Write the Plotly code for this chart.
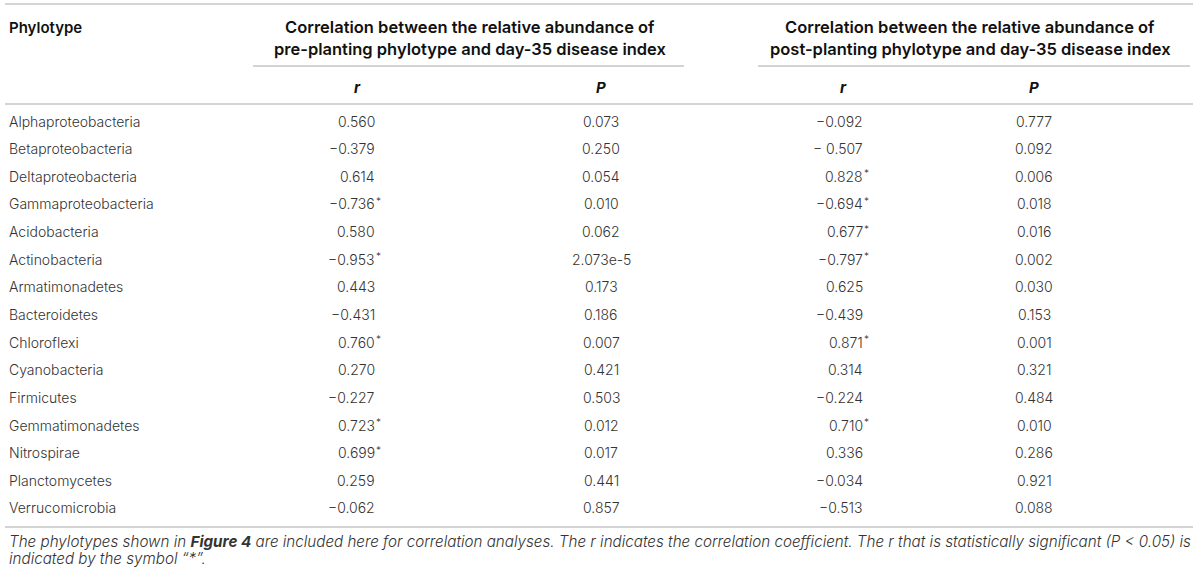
import plotly.graph_objects as go

# table content
phylotypes = [
    "Alphaproteobacteria", "Betaproteobacteria", "Deltaproteobacteria",
    "Gammaproteobacteria", "Acidobacteria", "Actinobacteria",
    "Armatimonadetes", "Bacteroidetes", "Chloroflexi", "Cyanobacteria",
    "Firmicutes", "Gemmatimonadetes", "Nitrospirae", "Planctomycetes",
    "Verrucomicrobia",
]
r_pre = ["0.560", "−0.379", "0.614", "−0.736*", "0.580", "−0.953*", "0.443",
         "−0.431", "0.760*", "0.270", "−0.227", "0.723*", "0.699*", "0.259",
         "−0.062"]
p_pre = ["0.073", "0.250", "0.054", "0.010", "0.062", "2.073e-5", "0.173",
         "0.186", "0.007", "0.421", "0.503", "0.012", "0.017", "0.441",
         "0.857"]
r_post = ["−0.092", "− 0.507", "0.828*", "−0.694*", "0.677*", "−0.797*",
          "0.625", "−0.439", "0.871*", "0.314", "−0.224", "0.710*", "0.336",
          "−0.034", "−0.513"]
p_post = ["0.777", "0.092", "0.006", "0.018", "0.016", "0.002", "0.030",
          "0.153", "0.001", "0.321", "0.484", "0.010", "0.286", "0.921",
          "0.088"]

first_header = "Phylotype"
group_titles = [
    ["Correlation between the relative abundance of",
     "pre-planting phylotype and day-35 disease index"],
    ["Correlation between the relative abundance of",
     "post-planting phylotype and day-35 disease index"],
]
sub_headers = ["r", "P", "r", "P"]
footnote = [
    "The phylotypes shown in <b>Figure 4</b> are included here for correlation "
    "analyses. The r indicates the correlation coefficient. The r that is "
    "statistically significant (P &lt; 0.05) is",
    "indicated by the symbol “*”.",
]

# layout, in window pixels (y grows downward)
W, H = 1200, 580
LEFT, RIGHT = 5, 1193
ROW0, ROW_H = 121, 27.64
FONT = "Inter"
TXT = "#333333"
HEAD = "#111111"
RULE = "#d4d4d4"

group_spans = [(253, 684), (758, 1190)]
group_cx = [470, 970]
sub_x = [357, 601, 843, 1034]          # header centres
num_right = {0: 377, 2: 865}           # r columns: right aligned digits
num_center = {1: 601, 3: 1034}         # P columns: centred

fig = go.Figure()
ann = []
shapes = []


def hline(x0, x1, y, color, width):
    shapes.append(dict(type="line", xref="x", yref="y", x0=x0, x1=x1,
                       y0=y, y1=y, line=dict(color=color, width=width)))


def text(x, y, s, size=14, color=TXT, anchor="left", weight=300, italic=False):
    if italic:
        s = "<i>" + s + "</i>"
    ann.append(dict(x=x, y=y, xref="x", yref="y", text=s, showarrow=False,
                    xanchor=anchor, yanchor="middle",
                    font=dict(family=FONT, size=size, color=color,
                              weight=weight)))


# rules
hline(LEFT, RIGHT, 4, RULE, 2)
hline(LEFT, RIGHT, 104, RULE, 2)
for x0, x1 in group_spans:
    hline(x0, x1, 66, "#a8a8a8", 1)
hline(LEFT, RIGHT, 527, RULE, 2)

# headers
text(7, 27, first_header, size=15, color=HEAD, weight=600)
for cx, lines in zip(group_cx, group_titles):
    text(cx, 27, lines[0], size=16.5, color=HEAD, anchor="center", weight=600)
    text(cx, 49, lines[1], size=16.5, color=HEAD, anchor="center", weight=600)
for x, s in zip(sub_x, sub_headers):
    text(x, 87, s, size=15, color=HEAD, anchor="center", weight=700,
         italic=True)

# body
columns = [r_pre, p_pre, r_post, p_post]
for i, name in enumerate(phylotypes):
    y = ROW0 + ROW_H * i
    text(7, y, name)
    for c, col in enumerate(columns):
        val = col[i]
        if c in num_right:
            num = val.rstrip("*")
            text(num_right[c], y, num, anchor="right")
            if val.endswith("*"):
                text(num_right[c] - 3, y - 3, "*", size=10, anchor="left")
        else:
            text(num_center[c], y, val, anchor="center")

# footnote
text(7, 541, footnote[0], size=15.2, italic=True)
text(7, 558, footnote[1], size=15.2, italic=True)

fig.update_layout(
    width=W, height=H,
    margin=dict(l=0, r=0, t=0, b=0),
    paper_bgcolor="white", plot_bgcolor="white",
    xaxis=dict(range=[0, W], visible=False, fixedrange=True),
    yaxis=dict(range=[H, 0], visible=False, fixedrange=True),
    annotations=ann, shapes=shapes, showlegend=False,
)

# drop the page's default body margin so the figure fills the window
fig.write_html("out.html", config={"displayModeBar": False},
               post_script="document.body.style.margin='0';"
                           "document.body.style.overflow='hidden';")
